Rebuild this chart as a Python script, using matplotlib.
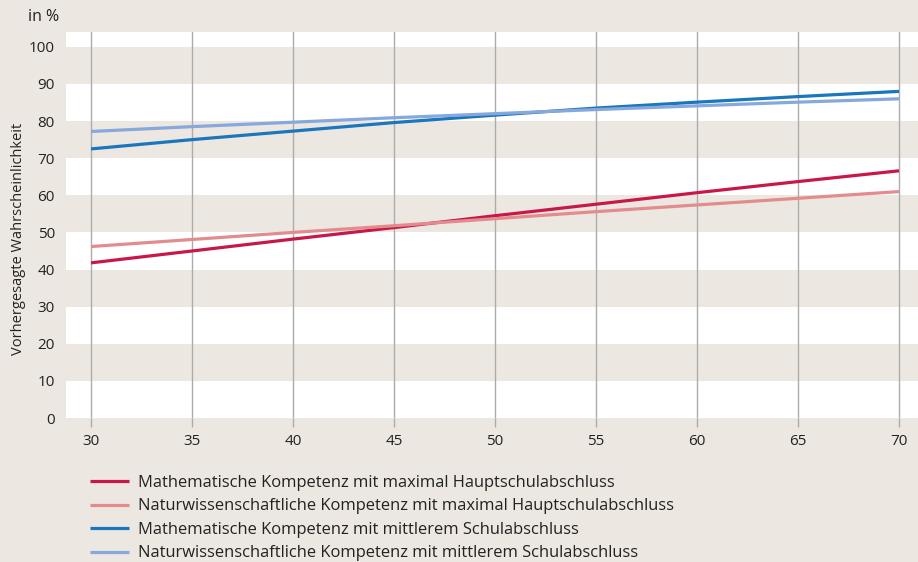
import numpy as np
import matplotlib
matplotlib.use("Agg")
import matplotlib.pyplot as plt

plt.rcParams['font.family'] = ['Open Sans', 'DejaVu Sans']

# data
x_vals = [30, 35, 40, 45, 50, 55, 60, 65, 70]
math_haupt = [41.8, 45.0, 48.2, 51.3, 54.5, 57.6, 60.7, 63.7, 66.6]
natur_haupt = [46.2, 48.1, 50.0, 51.8, 53.7, 55.6, 57.4, 59.2, 61.0]
math_mittel = [72.5, 75.0, 77.3, 79.6, 81.6, 83.5, 85.1, 86.6, 88.0]
natur_mittel = [77.2, 78.5, 79.7, 80.9, 82.0, 83.1, 84.1, 85.1, 86.0]
labels = [
    "Mathematische Kompetenz mit maximal Hauptschulabschluss",
    "Naturwissenschaftliche Kompetenz mit maximal Hauptschulabschluss",
    "Mathematische Kompetenz mit mittlerem Schulabschluss",
    "Naturwissenschaftliche Kompetenz mit mittlerem Schulabschluss",
]
x_ticks = [30, 35, 40, 45, 50, 55, 60, 65, 70]
y_ticks = [0, 10, 20, 30, 40, 50, 60, 70, 80, 90, 100]

bg = "#ece8e1"
colors = ["#c8184a", "#e28c8e", "#1a76bd", "#86a8dc"]
grid_col = "#acacac"
txt = "#222222"

fig = plt.figure(figsize=(9.18, 5.62), dpi=100, facecolor=bg)
ax = fig.add_axes([66/918, (562-418)/562, 1 - 66/918, (418-32)/562])
ax.set_facecolor(bg)

# white bands
for lo in [0, 20, 40, 60, 80, 100]:
    ax.axhspan(lo, min(lo + 10, 104), color="white", lw=0, zorder=0)

ax.set_xlim(28.76, 70.94)
ax.set_ylim(0, 104)

for xv in x_ticks:
    ax.axvline(xv, color=grid_col, lw=1.0, zorder=1)

series = [math_haupt, natur_haupt, math_mittel, natur_mittel]
for ys, c, lab in zip(series, colors, labels):
    ax.plot(x_vals, ys, color=c, lw=2.3, label=lab, zorder=3, solid_capstyle="butt")

ax.set_xticks(x_ticks)
ax.set_yticks(y_ticks)
ax.tick_params(axis="x", length=6.5, width=1.0, color=grid_col, pad=5, labelsize=11, labelcolor=txt)
ax.tick_params(axis="y", length=0, pad=8, labelsize=11, labelcolor=txt)
for s in ax.spines.values():
    s.set_visible(False)

ax.set_ylabel("Vorhergesagte Wahrscheinlichkeit", fontsize=10.5, color=txt)
ax.yaxis.set_label_coords(-0.047, 0.464)
fig.text(28/918, 1 - 17/562, "in %", fontsize=11.5, color=txt, va="center", ha="left")

handles, labs = ax.get_legend_handles_labels()
fig.legend(handles, labs, loc="upper left", bbox_to_anchor=(90/918, 1 - 475/562),
           frameon=False, fontsize=11.9, handlelength=2.35, handletextpad=0.55,
           labelspacing=0.45, labelcolor=txt, borderaxespad=0, borderpad=0)

fig.savefig("out.png", dpi=100, facecolor=bg)
